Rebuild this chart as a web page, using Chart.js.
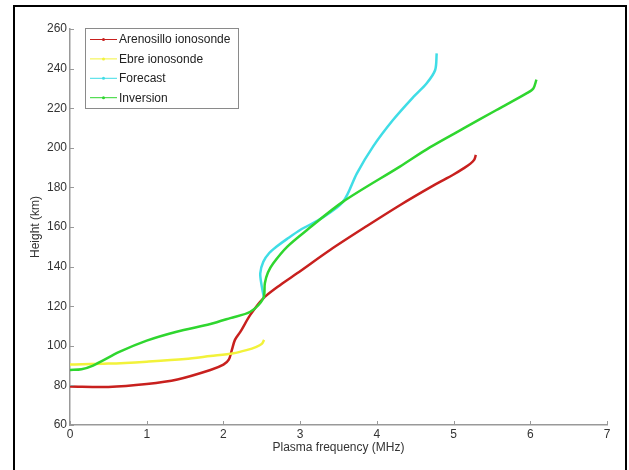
<!DOCTYPE html>
<html>
<head>
<meta charset="utf-8">
<style>
  body { margin: 0; background: #fff; }
  canvas { display: block; }
</style>
</head>
<body>
<canvas id="myChart" width="629" height="470"></canvas>
<script src="https://cdn.jsdelivr.net/npm/chart.js@4.4.1/dist/chart.umd.min.js"></script>
<script>
  // profile data: plasma frequency (MHz) vs height (km)
  const arenosilloFreq = [0, 0.5, 1.0, 1.4, 1.83, 2.0, 2.07, 2.11, 2.15, 2.22, 2.35, 2.52, 2.75, 2.96, 3.39, 3.87, 4.3, 4.74, 5.0, 5.13, 5.22, 5.27, 5.29];
  const arenosilloHeight = [79.4, 79.2, 80.7, 83, 87.8, 90.5, 93, 97.9, 103, 107, 115.6, 124, 131, 136.6, 148.4, 160.5, 171, 181, 186.5, 189.6, 192, 194, 196.4];

  const ebreFreq = [0, 0.5, 1.0, 1.5, 1.83, 2.13, 2.3, 2.43, 2.5, 2.53];
  const ebreHeight = [90.5, 91, 92, 93.3, 94.8, 96.2, 97.8, 99.5, 101, 103];

  const forecastFreq = [2.53, 2.5, 2.48, 2.52, 2.6, 2.69, 2.83, 3.0, 3.26, 3.56, 3.74, 3.95, 4.21, 4.48, 4.65, 4.76, 4.78];
  const forecastHeight = [124, 130, 136.6, 142.5, 147, 150, 154, 158.5, 164, 172.8, 187.1, 200.6, 214, 225.8, 232.6, 239.3, 247.7];

  const inversionFreq = [0, 0.15, 0.3, 0.65, 1.0, 1.39, 1.83, 2.09, 2.35, 2.52, 2.54, 2.58, 2.65, 2.83, 3.09, 3.56, 4.3, 4.69, 5.13, 5.56, 5.95, 6.04, 6.08];
  const inversionHeight = [87.8, 88.2, 90, 97, 102.6, 107.1, 111, 114, 117.2, 124, 131.6, 137, 141.7, 150, 158.5, 172.8, 190.5, 200.2, 209.8, 219.1, 227.5, 230, 234.4];

  const seriesLabels = ["Arenosillo ionosonde", "Ebre ionosonde", "Forecast", "Inversion"];
  const seriesColors = ["#c8201e", "#f2f23a", "#3fdde6", "#2fd62f"];

  const xTicks = [0, 1, 2, 3, 4, 5, 6, 7];
  const yTicks = [60, 80, 100, 120, 140, 160, 180, 200, 220, 240, 260];

  function toPoints(xs, ys) {
    return xs.map((x, i) => ({ x: x, y: ys[i] }));
  }

  const curves = [
    toPoints(arenosilloFreq, arenosilloHeight),
    toPoints(ebreFreq, ebreHeight),
    toPoints(forecastFreq, forecastHeight),
    toPoints(inversionFreq, inversionHeight),
  ];

  const FONT = "'Liberation Sans', Arial, sans-serif";

  // white page, black frame, inward tick marks and a boxed legend
  const decorations = {
    id: "decorations",
    beforeDraw(chart) {
      const c = chart.ctx;
      c.save();
      c.fillStyle = "#fff";
      c.fillRect(0, 0, chart.width, chart.height);
      c.restore();
    },
    afterDraw(chart) {
      const c = chart.ctx;
      const xs = chart.scales.x;
      const ys = chart.scales.y;
      c.save();
      c.strokeStyle = "#999";
      c.lineWidth = 1;
      c.beginPath();
      for (const v of xTicks) {
        const px = Math.round(xs.getPixelForValue(v)) + 0.5;
        c.moveTo(px, ys.bottom);
        c.lineTo(px, ys.bottom - 4);
      }
      for (const v of yTicks) {
        const py = Math.round(ys.getPixelForValue(v)) + 0.5;
        c.moveTo(xs.left, py);
        c.lineTo(xs.left + 4, py);
      }
      c.stroke();

      // legend
      const lx = 85.5, ly = 28.5, lw = 153, lh = 80;
      c.fillStyle = "#fff";
      c.fillRect(lx, ly, lw, lh);
      c.strokeStyle = "#8a8a8a";
      c.strokeRect(lx, ly, lw, lh);
      c.font = "12px " + FONT;
      c.textBaseline = "middle";
      chart.data.datasets.forEach((ds, i) => {
        const y = 39.5 + i * 19.4;
        c.strokeStyle = ds.borderColor;
        c.lineWidth = 1;
        c.beginPath();
        c.moveTo(90, y);
        c.lineTo(117, y);
        c.stroke();
        c.fillStyle = ds.borderColor;
        c.beginPath();
        c.arc(103.5, y, 1.5, 0, Math.PI * 2);
        c.fill();
        c.fillStyle = "#222";
        c.fillText(ds.label, 119, y + 0.5);
      });

      // outer frame
      c.strokeStyle = "#000";
      c.lineWidth = 2;
      c.strokeRect(14, 6, 612, 470);
      c.restore();
    },
  };

  const ctx = document.getElementById("myChart").getContext("2d");
  const myChart = new Chart(ctx, {
    type: "scatter",
    data: {
      datasets: curves.map((pts, i) => ({
        label: seriesLabels[i],
        data: pts,
        showLine: true,
        borderColor: seriesColors[i],
        backgroundColor: seriesColors[i],
        borderWidth: 2.5,
        pointRadius: 0,
        tension: 0.3,
        order: 3 - i,
      })),
    },
    options: {
      responsive: false,
      animation: false,
      layout: { padding: { left: 0, top: 29, right: 22, bottom: 0 } },
      plugins: {
        legend: { display: false },
        tooltip: { enabled: false },
      },
      scales: {
        x: {
          type: "linear",
          position: "bottom",
          min: 0,
          max: 7,
          afterBuildTicks: (s) => { s.ticks = xTicks.map((v) => ({ value: v })); },
          afterFit: (s) => { s.height = 45; },
          ticks: { autoSkip: false, maxRotation: 0, padding: 2, color: "#333", font: { family: FONT, size: 12 } },
          grid: { display: true, drawOnChartArea: false, drawTicks: false },
          border: { display: true, color: "#999", width: 1.5 },
          title: {
            display: true,
            text: "Plasma frequency (MHz)",
            color: "#333",
            font: { family: FONT, size: 12 },
            padding: { top: 0, bottom: 15 },
          },
        },
        y: {
          type: "linear",
          min: 60,
          max: 260,
          afterBuildTicks: (s) => { s.ticks = yTicks.map((v) => ({ value: v })); },
          afterFit: (s) => { s.width = 70; },
          ticks: { autoSkip: false, padding: 3, color: "#333", font: { family: FONT, size: 12 } },
          grid: { display: true, drawOnChartArea: false, drawTicks: false },
          border: { display: true, color: "#999", width: 1.5 },
          title: {
            display: true,
            text: "Height (km)",
            color: "#333",
            font: { family: FONT, size: 12 },
            padding: { top: 28, bottom: 0 },
          },
        },
      },
    },
    plugins: [decorations],
  });
</script>
</body>
</html>
